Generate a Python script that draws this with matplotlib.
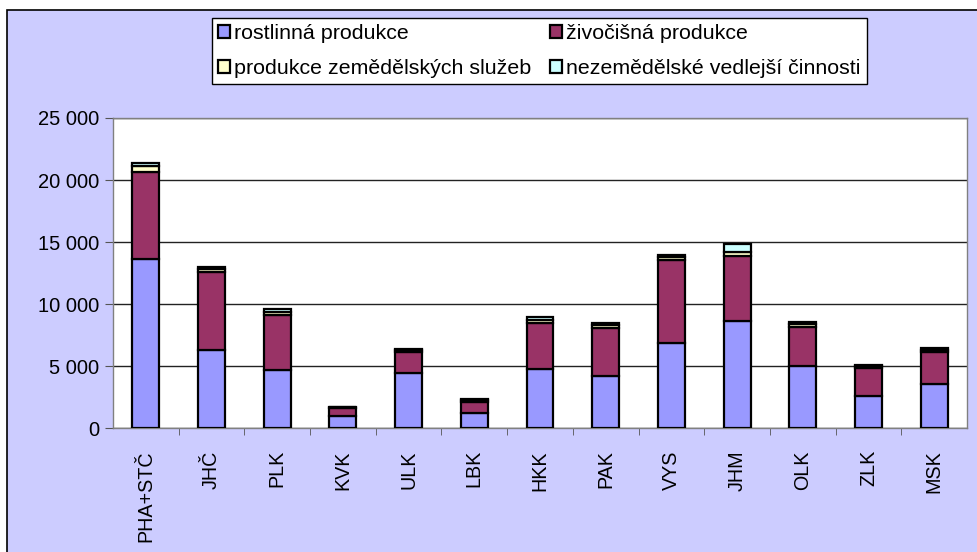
import numpy as np
import matplotlib.pyplot as plt
from matplotlib.patches import Rectangle
from matplotlib.ticker import FuncFormatter

plt.rcParams['font.family'] = ['Liberation Sans', 'DejaVu Sans']

# regions
kraje = ['PHA+STČ', 'JHČ', 'PLK', 'KVK', 'ULK', 'LBK', 'HKK', 'PAK', 'VYS', 'JHM', 'OLK', 'ZLK', 'MSK']

# values
rostlinna = [13600, 6290, 4680, 990, 4460, 1240, 4730, 4190, 6880, 8630, 5000, 2580, 3520]
zivocisna = [7070, 6310, 4430, 600, 1690, 880, 3710, 3900, 6670, 5240, 3170, 2280, 2630]
sluzby = [480, 250, 260, 80, 150, 130, 250, 220, 250, 300, 250, 130, 170]
nezemedelske = [250, 150, 200, 50, 100, 90, 290, 130, 150, 670, 150, 90, 110]

nazvy = ['rostlinná produkce', 'živočišná produkce',
         'produkce zemědělských služeb', 'nezemědělské vedlejší činnosti']
barvy = ['#9999FF', '#993366', '#FFFFCC', '#CCFFFF']

fig = plt.figure(figsize=(9.78, 5.52), dpi=100, facecolor='white')

# lavender chart area with black border (cut off at right / bottom)
fig.patches.append(Rectangle((7 / 978, -0.2), 1.2, 0.2 + 1 - 10 / 552,
                             transform=fig.transFigure, facecolor='#CCCCFF',
                             edgecolor='black', linewidth=1.2, zorder=-5))

ax = fig.add_axes([113 / 978, 1 - 428 / 552, 854 / 978, 310 / 552])
ax.set_zorder(2)
ax.set_facecolor('white')

x = np.arange(len(kraje))
dolni = np.zeros(len(kraje))
sloupce = []
for data, nazev, barva in zip([rostlinna, zivocisna, sluzby, nezemedelske], nazvy, barvy):
    b = ax.bar(x, data, 0.41, bottom=dolni, color=barva, edgecolor='black',
               linewidth=1.6, label=nazev, zorder=3)
    sloupce.append(b)
    dolni = dolni + np.array(data)

ax.set_xlim(-0.5, len(kraje) - 0.5)
ax.set_ylim(0, 25000)
ax.set_yticks(np.arange(0, 25001, 5000))
ax.yaxis.set_major_formatter(FuncFormatter(lambda v, p: f'{int(v):,}'.replace(',', ' ')))
ax.grid(axis='y', color='#222222', linewidth=1, zorder=1)

ax.set_xticks(x)
ax.set_xticklabels(kraje, rotation=90)
ax.set_xticks(np.arange(0.5, len(kraje) - 0.5, 1), minor=True)
ax.tick_params(axis='x', which='major', length=0, pad=16, labelsize=14.2)
ax.tick_params(axis='x', which='minor', length=5, direction='out', color='#555555')
ax.tick_params(axis='y', length=6, direction='out', color='#555555', labelsize=14.5, pad=4)

for s in ax.spines.values():
    s.set_color('#808080')
    s.set_linewidth(1)

# legend filled row by row
poradi = [0, 2, 1, 3]
leg = fig.legend([sloupce[i] for i in poradi], [nazvy[i] for i in poradi],
                 loc='upper left', bbox_to_anchor=(212 / 978, 1 - 18 / 552), ncol=2,
                 fontsize=15.4, frameon=True, fancybox=False, edgecolor='black',
                 framealpha=1, borderpad=0.3, handlelength=0.55, handleheight=0.55,
                 handletextpad=0.2, columnspacing=0.85, labelspacing=0.72,
                 borderaxespad=0)
leg.get_frame().set_linewidth(1)

fig.savefig('out.png', dpi=100, facecolor='white')
